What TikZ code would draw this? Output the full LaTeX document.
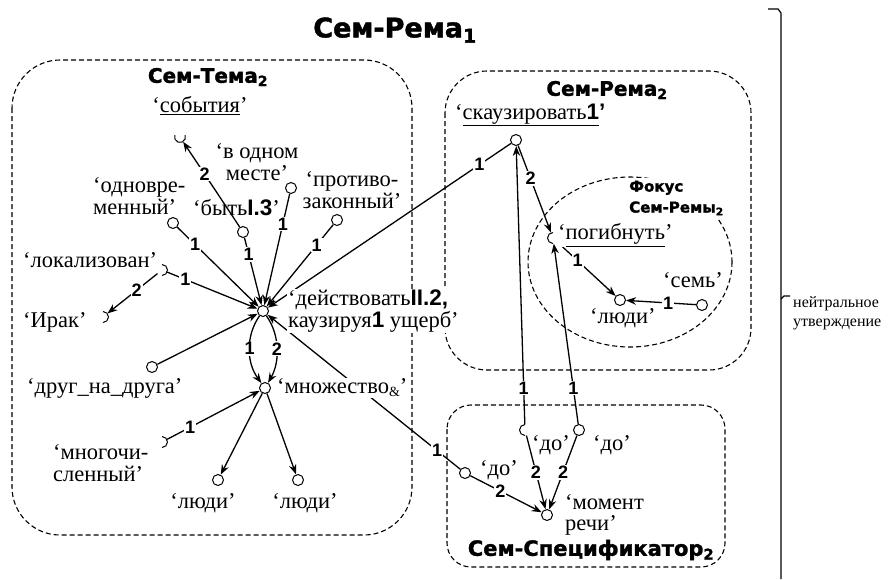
\documentclass[tikz,border=0pt]{standalone}
\usepackage{fontspec}
\setmainfont{Liberation Serif}
\newfontfamily\numf{Liberation Sans}
\newfontfamily\headf{DejaVu Sans}[BoldFeatures={FakeBold=1.5}]
\usetikzlibrary{arrows.meta}

\tikzset{
  dot/.style={circle, draw, fill=white, minimum size=11pt, inner sep=0pt, line width=1pt},
  hdot/.style={circle, minimum size=11pt, inner sep=0pt},
  arcline/.style={line width=1pt},
  conn/.style={line width=1.3pt, -{Stealth[length=10pt,width=7.5pt]}},
  num/.style={fill=white, inner sep=1pt, font=\numf\bfseries\fontsize{18}{18}\selectfont},
  txt/.style={fill=white, inner sep=1pt, font=\fontsize{22.5}{21.5}\selectfont, align=left},
  txtc/.style={txt, align=center},
  head/.style={fill=white, inner sep=2pt, font=\headf\bfseries\fontsize{20}{20}\selectfont},
  zone/.style={line width=1.1pt, dash pattern=on 5pt off 3pt},
}

\begin{document}
\begin{tikzpicture}[x=1pt,y=-1pt]
\useasboundingbox (0,0) rectangle (888,579);

% dashed zones
\draw[zone, rounded corners=48pt] (12,60) rectangle (412,535);
\draw[zone, rounded corners=42pt] (445,71) rectangle (751,370);
\draw[zone, rounded corners=24pt] (447,405) rectangle (725,567);
\draw[zone] (630,262) ellipse[x radius=102, y radius=85];

% semantic nodes
\node[hdot] (sob) at (180,137) {};
\node[dot]  (byt) at (243,232) {};
\node[dot]  (vod) at (291,188) {};
\node[dot]  (odn) at (173,223) {};
\node[dot]  (pro) at (337,220) {};
\node[hdot] (lok) at (162,270) {};
\node[hdot] (irk) at (103,317) {};
\node[dot]  (drg) at (152,367) {};
\node[dot]  (dej) at (263,311) {};
\node[dot]  (mnz) at (265,388) {};
\node[hdot] (mng) at (162,442) {};
\node[dot]  (lj1) at (218,480) {};
\node[dot]  (lj2) at (298,480) {};
\node[dot]  (skz) at (516,140) {};
\node[hdot] (pgb) at (553,238) {};
\node[dot]  (lj3) at (620,300) {};
\node[dot]  (sem) at (702,305) {};
\node[dot]  (do1) at (465,473) {};
\node[hdot] (do2) at (525,430) {};
\node[dot]  (do3) at (579,430) {};
\node[dot]  (mom) at (547,515) {};

% partly hidden circles
\draw[arcline] (sob.center) ++(200:5.5) arc[start angle=200, end angle=-20, radius=5.5];
\draw[arcline] (lok.center) ++(-90:5.5) arc[start angle=-90, end angle=90, radius=5.5];
\draw[arcline] (irk.center) ++(-90:5.5) arc[start angle=-90, end angle=90, radius=5.5];
\draw[arcline] (mng.center) ++(-90:5.5) arc[start angle=-90, end angle=90, radius=5.5];
\draw[arcline] (pgb.center) ++(270:5.5) arc[start angle=270, end angle=90, radius=5.5];
\draw[arcline] (do2.center) ++(270:5.5) arc[start angle=270, end angle=90, radius=5.5];

% word labels (under the connector numbers)
\node[txtc] (tsob) at (200,106) {‘\underline{события}’};
\node[txt, anchor=west] (tbyt) at (192,208) {‘быть{\numf\bfseries I.3}’};
\node[txtc] (tvod) at (257,162) {‘в одном\\месте’};
\node[txt, anchor=west] (todn) at (92,196) {‘одновре-\\менный’};
\node[txtc] (tpro) at (352,190) {‘противо-\\законный’};
\node[txt, anchor=west] (tlok) at (22,260) {‘локализован’};
\node[txt, anchor=west] (tirk) at (22,322) {‘Ирак’};
\node[txt, anchor=west] (tdrg) at (26,388) {‘друг\_на\_друга’};
\node[txt, anchor=west] (tmng) at (52,463) {‘многочи-\\сленный’};
\node[txtc] (tlj1) at (203,503) {‘люди’};
\node[txtc] (tlj2) at (305,503) {‘люди’};
\node[txt, anchor=west] (tsem) at (662,280) {‘семь’};
\node[txt, anchor=west] (tlj3) at (589,318) {‘люди’};
\node[txt, anchor=west] (tdo1) at (479,470) {‘до’};
\node[txt, anchor=west] (tdo2) at (531,445) {‘до’};
\node[txt, anchor=west] (tdo3) at (592,445) {‘до’};
\node[txt, anchor=west] (tmom) at (564,515) {‘момент\\речи’};

% connectors
\draw[conn] (byt) -- node[num, pos=0.62] {2} (sob);
\draw[conn] (odn) -- node[num, pos=0.22] {1} (dej);
\draw[conn] (byt) -- node[num, pos=0.25] {1} (dej);
\draw[conn] (vod) -- node[num, pos=0.27] {1} (dej);
\draw[conn] (pro) -- node[num, pos=0.25] {1} (dej);
\draw[conn] (lok) -- node[num, pos=0.2] {1} (dej);
\draw[conn] (lok) -- node[num, pos=0.42] {2} (irk);
\draw[conn] (drg) -- (dej);
\draw[conn] (skz) -- node[num, pos=0.13] {1} (dej);
\draw[conn] (do1) -- node[num, pos=0.12] {1} (dej);
\draw[conn] (dej) .. controls (246,335) and (246,362) .. node[num] {1} (mnz);
\draw[conn] (dej) .. controls (280,335) and (280,362) .. node[num] {2} (mnz);
\draw[conn] (mng) -- node[num, pos=0.25] {1} (mnz);
\draw[conn] (mnz) -- (lj1);
\draw[conn] (mnz) -- (lj2);
\draw[conn] (skz) -- node[num, pos=0.38] {2} (pgb);
\draw[conn] (pgb) -- node[num, pos=0.35] {1} (lj3);
\draw[conn] (sem) -- node[num, pos=0.4] {1} (lj3);
\draw[conn] (do2) -- node[num, pos=0.13] {1} (skz);
\draw[conn] (do3) -- node[num, pos=0.2] {1} (pgb);
\draw[conn] (do1) -- node[num, pos=0.42] {2} (mom);
\draw[conn] (do2) -- node[num, pos=0.5] {2} (mom);
\draw[conn] (do3) -- node[num, pos=0.5] {2} (mom);

% word labels that cover passing lines
\node[txt, anchor=west] (tmnz) at (276,388) {‘множество{\fontsize{14}{14}\selectfont\raisebox{-3pt}{\&}}’};
\node[txt, anchor=west] (tdej) at (287,311) {‘действовать{\numf\bfseries II.2,}\\каузируя{\numf\bfseries 1} ущерб’};
\node[txt, anchor=west] (tskz) at (454,115) {‘\underline{скаузировать{\numf\bfseries 1}}{\numf\bfseries ’}};
\node[txt, anchor=west] (tpgb) at (557,235) {‘\underline{погибнуть}’};

% zone headings
\node[head, font=\headf\bfseries\fontsize{27}{27}\selectfont, fill=none] (hrema1) at (395,30) {Сем-Рема\textsubscript{1}};
\node[head] (htema2) at (208,77) {Сем-Тема\textsubscript{2}};
\node[head] (hrema2) at (607,90) {Сем-Рема\textsubscript{2}};
\node[head, anchor=west, align=left, inner sep=3pt, font=\headf\bfseries\fontsize{15}{21}\selectfont] (hfoc) at (626,198) {Фокус\\Сем-Ремы\textsubscript{2}};
\node[head, font=\headf\bfseries\fontsize{21}{21}\selectfont] (hspec) at (591,550) {Сем-Спецификатор\textsubscript{2}};

% bracket on the right
\draw[line width=1.2pt] (768,9) -- (778,9) -- (781,13) -- (781,579);
\draw[line width=1.2pt] (781,299) -- (784,296) -- (790,296);
\node[anchor=west, align=left, inner sep=0pt, font=\fontsize{16}{19}\selectfont] (tneut) at (793,313) {нейтральное\\утверждение};
\end{tikzpicture}
\end{document}
